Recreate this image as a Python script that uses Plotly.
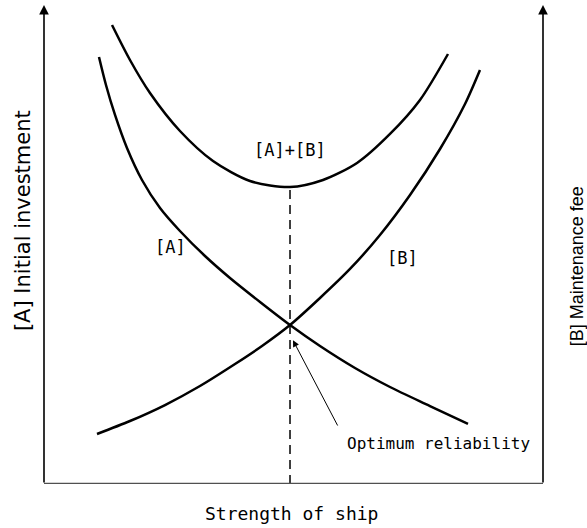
import plotly.graph_objects as go

# Schematic values (abstract units, 0-100 on both axes)
a_x = [11.02, 12.42, 14.23, 16.63, 19.64, 23.25, 27.25, 32.26, 37.27, 43.29, 49.30, 55.31, 62.32, 69.34, 77.35, 84.97]
a_y = [89.14, 83.30, 77.04, 70.15, 63.47, 57.62, 52.82, 47.60, 43.01, 38.00, 33.19, 28.81, 24.22, 20.25, 16.28, 12.53]

b_x = [10.62, 17.23, 24.25, 31.26, 38.28, 43.69, 49.30, 55.31, 61.32, 67.33, 73.35, 79.36, 84.37, 87.37]
b_y = [10.44, 13.15, 16.49, 20.46, 25.05, 28.81, 33.19, 38.83, 44.89, 51.98, 60.33, 69.94, 79.33, 86.43]

sum_x = [13.63, 17.23, 21.24, 27.25, 33.87, 41.28, 49.30, 55.91, 62.73, 69.34, 75.35, 80.96]
sum_y = [95.82, 88.52, 81.63, 73.70, 67.43, 63.26, 62.00, 63.47, 67.01, 73.07, 80.17, 89.77]

opt_x = 49.3
opt_sum = 62.0
opt_cross = 33.2

label_a = ("[A]", 25.3, 49.5)
label_b = ("[B]", 71.9, 47.2)
label_sum = ("[A]+[B]", 49.3, 69.7)
label_opt = ("Optimum reliability", 79.0, 8.4)

x_title = "Strength of ship"
y_left_title = "[A] Initial investment"
y_right_title = "[B] Maintenance fee"

mono = "DejaVu Sans Mono"
sans = "Liberation Sans, Arial, sans-serif"

fig = go.Figure()
line_style = dict(color="black", width=2.5, shape="spline", smoothing=0.8)
fig.add_trace(go.Scatter(x=a_x, y=a_y, mode="lines", line=line_style, hoverinfo="skip"))
fig.add_trace(go.Scatter(x=b_x, y=b_y, mode="lines", line=line_style, hoverinfo="skip"))
fig.add_trace(go.Scatter(x=sum_x, y=sum_y, mode="lines", line=line_style, hoverinfo="skip"))
fig.add_trace(go.Scatter(x=[opt_x, opt_x], y=[0, opt_sum], mode="lines",
                         line=dict(color="black", width=1.5, dash="9px,6px"), hoverinfo="skip"))

# bottom axis
fig.add_shape(type="line", x0=0, x1=100, y0=0, y1=0, xref="x", yref="y",
              line=dict(color="#505050", width=2.5))

annotations = []
# vertical axes with arrows
for xv in (0, 100):
    annotations.append(dict(x=xv, y=100, ax=xv, ay=0, xref="x", yref="y", axref="x", ayref="y",
                            showarrow=True, arrowhead=2, arrowsize=1.2, arrowwidth=1.6,
                            arrowcolor="black", text=""))
# optimum arrow
annotations.append(dict(x=opt_x + 0.6, y=opt_cross - 3.2, ax=59.0, ay=11.9, xref="x", yref="y",
                        axref="x", ayref="y", showarrow=True, arrowhead=2, arrowsize=1.3,
                        arrowwidth=1, arrowcolor="black", text=""))

for txt, xv, yv in (label_a, label_b, label_sum):
    annotations.append(dict(x=xv, y=yv, xref="x", yref="y", text=txt, showarrow=False,
                            xanchor="center", yanchor="middle",
                            font=dict(family=mono, size=17, color="black")))
annotations.append(dict(x=label_opt[1], y=label_opt[2], xref="x", yref="y", text=label_opt[0],
                        showarrow=False, xanchor="center", yanchor="middle",
                        font=dict(family=mono, size=16, color="black")))

annotations.append(dict(x=0.495, y=-0.0625, xref="paper", yref="paper", text=x_title,
                        xanchor="center", yanchor="middle",
                        showarrow=False, font=dict(family=mono, size=18, color="black")))
annotations.append(dict(x=-0.042, y=0.549, xref="paper", yref="paper", text=y_left_title,
                        xanchor="center", yanchor="middle",
                        textangle=-90, showarrow=False, font=dict(family="DejaVu Sans", size=21, color="black")))
annotations.append(dict(x=1.0686, y=0.455, xref="paper", yref="paper", text=y_right_title,
                        xanchor="center", yanchor="middle",
                        textangle=-90, showarrow=False, font=dict(family=sans, size=18, color="black")))

fig.update_layout(
    width=587, height=528,
    margin=dict(l=44, r=44, t=5, b=44),
    paper_bgcolor="white", plot_bgcolor="white",
    showlegend=False,
    xaxis=dict(range=[0, 100], visible=False, fixedrange=True),
    yaxis=dict(range=[0, 100], visible=False, fixedrange=True),
    annotations=annotations,
)

fig.write_html("out.html", config={"displayModeBar": False},
               post_script="document.body.style.margin='0px';document.body.style.overflow='hidden';")
